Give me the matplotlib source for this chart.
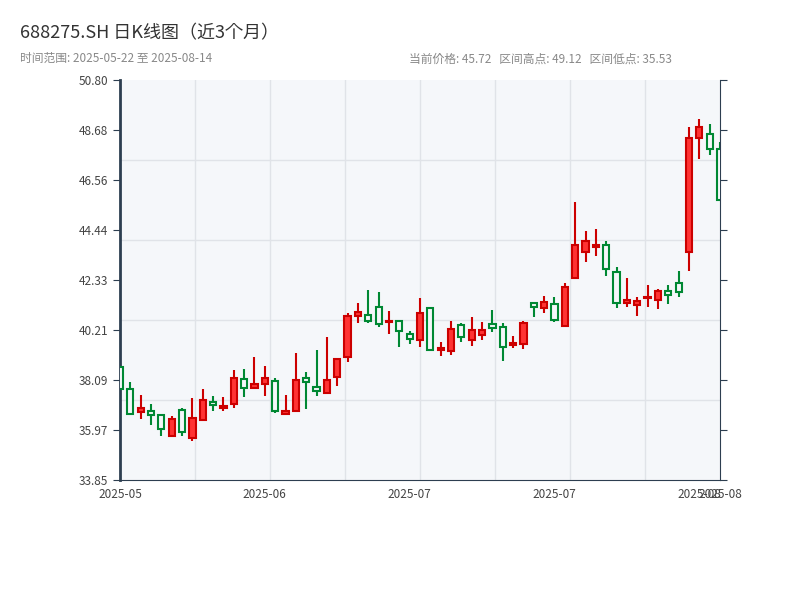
import matplotlib
matplotlib.use("Agg")
import matplotlib.pyplot as plt
from matplotlib import font_manager
import numpy as np

cjk = [f.name for f in font_manager.fontManager.ttflist if 'CJK' in f.name]
pref = [n for n in ['Noto Sans CJK SC', 'Noto Sans CJK JP', 'Noto Sans CJK TC', 'Noto Sans CJK KR'] if n in cjk] or cjk[:1]
plt.rcParams['font.family'] = pref + ['DejaVu Sans']

opens  = [38.64,37.71,36.73,36.77,36.60,35.71,36.82,35.63,36.39,37.16,36.90,37.07,38.13,37.75,37.92,38.05,36.65,36.77,38.17,37.79,
          37.54,38.22,39.06,40.80,40.84,41.18,40.55,40.59,40.04,39.79,41.14,39.36,39.32,40.42,39.79,40.00,40.46,40.33,39.58,39.62,
          41.35,41.14,41.31,40.38,42.41,43.51,43.73,43.81,42.66,41.35,41.26,41.55,41.48,41.86,42.20,43.51,48.34,48.51,47.88]
closes = [37.71,36.65,36.90,36.60,36.01,36.44,35.88,36.48,37.24,37.03,36.99,38.17,37.75,37.92,38.17,36.77,36.77,38.09,38.00,37.62,
          38.09,38.98,40.80,40.97,40.59,40.46,40.60,40.17,39.83,40.93,39.36,39.45,40.25,39.91,40.21,40.21,40.29,39.49,39.66,40.50,
          41.18,41.39,40.63,42.03,43.81,43.98,43.81,42.79,41.35,41.48,41.43,41.60,41.86,41.69,41.82,48.34,48.81,47.88,45.72]
highs  = [38.70,38.00,37.45,37.07,36.65,36.56,36.90,37.33,37.71,37.41,37.37,38.51,38.55,39.06,38.68,38.17,37.45,39.23,38.43,39.36,
          39.91,39.02,40.93,41.35,41.90,41.82,41.01,40.63,40.17,41.56,41.14,39.70,40.59,40.50,40.76,40.55,41.05,40.50,39.96,40.59,
          41.39,41.65,41.60,42.20,45.63,44.40,44.49,43.98,42.88,42.41,41.60,42.11,41.95,42.11,42.71,48.81,49.15,48.94,48.17]
lows   = [37.70,36.60,36.44,36.20,35.71,35.71,35.71,35.50,36.35,36.77,36.77,36.90,37.37,37.75,37.41,36.70,36.65,36.77,36.86,37.41,
          37.50,37.83,38.85,40.50,40.50,40.34,40.04,39.49,39.62,39.49,39.30,39.10,39.15,39.70,39.53,39.79,40.12,38.90,39.45,39.40,
          40.76,40.93,40.55,40.38,42.41,43.09,43.35,42.49,41.14,41.18,40.80,41.18,41.10,41.31,41.60,42.71,47.45,47.62,45.70]
tick_labels = ["2025-05", "2025-06", "2025-07", "2025-07", "2025-08", "2025-08"]
tick_idx = [0, 14, 28, 42, 56, 58]
yticks = [33.85, 35.97, 38.09, 40.21, 42.33, 44.44, 46.56, 48.68, 50.80]

fig = plt.figure(figsize=(8, 6), dpi=100)
ax = fig.add_axes([0.15, 0.2, 0.75, 0.6667])
ax.set_facecolor('#f5f7fa')
n = len(opens)
ax.set_xlim(0, n - 1)
ax.set_ylim(33.85, 50.80)

for k in range(1, 8):
    ax.axvline(k * (n - 1) / 8, color='#e0e3e8', lw=1, zorder=0)
for k in range(1, 5):
    ax.axhline(33.85 + k * (50.80 - 33.85) / 5, color='#e0e3e8', lw=1, zorder=0)

up_edge, up_fill, dn_edge = '#cc0000', '#ff3333', '#008833'
for i in range(n):
    o, c, h, l = opens[i], closes[i], highs[i], lows[i]
    up = c >= o
    col = up_edge if up else dn_edge
    lo, hi = min(o, c), max(o, c)
    ax.vlines(i, l, lo, color=col, lw=1.5, zorder=2)
    ax.vlines(i, hi, h, color=col, lw=1.5, zorder=2)
    height = max(hi - lo, 0.04)
    ax.add_patch(plt.Rectangle((i - 0.3, lo), 0.6, height,
                               facecolor=up_fill if up else '#f5f7fa',
                               edgecolor=col, lw=1.5, zorder=3))

ax.set_xticks(tick_idx)
ax.set_xticklabels(tick_labels, fontsize=8.5, color='#444444')
ax.set_yticks(yticks)
ax.set_yticklabels([f"{v:.2f}" for v in yticks], fontsize=8.5, color='#444444')
ax.tick_params(axis='y', right=True, length=5, color='#2d3e50')
ax.tick_params(axis='x', length=0, pad=6)
ax.spines['top'].set_visible(False)
ax.spines['bottom'].set_color('#2d3e50')
ax.spines['left'].set_color('#2d3e50')
ax.spines['left'].set_linewidth(2)
ax.spines['right'].set_color('#2d3e50')

fig.text(0.025, 0.945, "688275.SH 日K线图（近3个月）", fontsize=13, color='#333333', va='center')
fig.text(0.025, 0.902, "时间范围: 2025-05-22 至 2025-08-14", fontsize=8.5, color='#888888', va='center')
fig.text(0.84, 0.902, "当前价格: 45.72   区间高点: 49.12   区间低点: 35.53", fontsize=8.5, color='#888888', va='center', ha='right')

fig.savefig("out.png", dpi=100)
